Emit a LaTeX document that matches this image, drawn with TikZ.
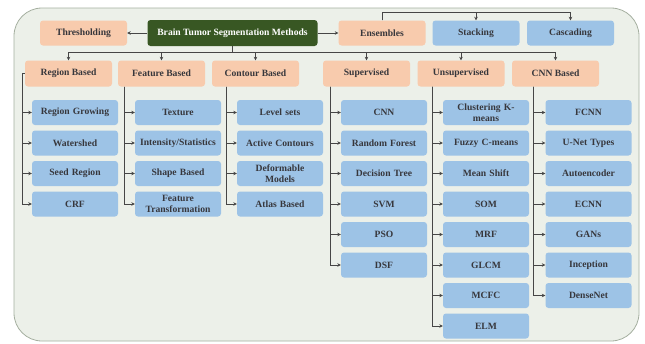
\documentclass[tikz,border=0pt]{standalone}
\usepackage{fontspec}
\setmainfont{Liberation Serif}
\usetikzlibrary{arrows.meta,calc}
\definecolor{framefill}{RGB}{236,240,233}
\definecolor{framedraw}{RGB}{165,175,160}
\definecolor{rootgreen}{RGB}{56,87,35}
\definecolor{salmon}{RGB}{248,203,173}
\definecolor{skyblue}{RGB}{157,195,230}
\definecolor{txt}{RGB}{55,55,60}
\definecolor{lin}{RGB}{70,70,70}
\tikzset{
  box/.style={rounded corners=3pt, minimum height=25pt, inner sep=1pt, align=center,
    font=\fontsize{9.6}{10.5}\selectfont\bfseries, text=txt},
  rootbox/.style={box, fill=rootgreen, text=white, minimum width=170pt, minimum height=26pt},
  catbox/.style={box, fill=salmon, minimum width=87pt, minimum height=26pt},
  leafbox/.style={box, fill=skyblue, minimum width=86pt, text width=84pt},
  topblue/.style={box, fill=skyblue, minimum width=87pt},
  conn/.style={draw=lin, line width=0.8pt},
  arr/.style={conn, -{Stealth[length=3.5pt,width=3.5pt]}}
}
\begin{document}
\begin{tikzpicture}[x=1pt,y=-1pt]
\useasboundingbox (0,0) rectangle (645,343);
\draw[framedraw, fill=framefill, line width=0.8pt, rounded corners=28pt] (14,8) rectangle (639,341);

% top row
\node[rootbox] (root) at (232.5,33) {Brain Tumor Segmentation Methods};
\node[catbox, minimum height=25pt] (thr) at (83.5,33) {Thresholding};
\node[catbox, minimum height=25pt] (ens) at (382,33) {Ensembles};
\node[topblue] (stk) at (476,33) {Stacking};
\node[topblue] (cas) at (570.5,33) {Cascading};

% categories
\node[catbox] (rb) at (68.5,73.5) {Region Based};
\node[catbox] (fb) at (161.5,73.5) {Feature Based};
\node[catbox] (cb) at (255.5,73.5) {Contour Based};
\node[catbox] (sup) at (366.5,73.5) {Supervised};
\node[catbox] (uns) at (461,73.5) {Unsupervised};
\node[catbox] (cnn) at (555.5,73.5) {CNN Based};

% vertical line positions
\coordinate (bus) at (0,52);
\coordinate (top) at (0,12);
\coordinate (v1) at (22,0);
\coordinate (v2) at (124,0);
\coordinate (v3) at (226,0);
\coordinate (v4) at (330,0);
\coordinate (v5) at (432,0);
\coordinate (v6) at (533,0);

% leaves column 1
\node[leafbox] (a1) at (75,112.5) {Region Growing};
\node[leafbox] (a2) at (75,143) {Watershed};
\node[leafbox] (a3) at (75,173.5) {Seed Region};
\node[leafbox] (a4) at (75,204) {CRF};
% column 2
\node[leafbox] (b1) at (178,112.5) {Texture};
\node[leafbox] (b2) at (178,143) {Intensity/Statistics};
\node[leafbox] (b3) at (178,173.5) {Shape Based};
\node[leafbox] (b4) at (178,204) {Feature\\Transformation};
% column 3
\node[leafbox] (c1) at (280,112.5) {Level sets};
\node[leafbox] (c2) at (280,143) {Active Contours};
\node[leafbox] (c3) at (280,173.5) {Deformable\\Models};
\node[leafbox] (c4) at (280,204) {Atlas Based};
% column 4
\node[leafbox] (d1) at (384,112.5) {CNN};
\node[leafbox] (d2) at (384,143) {Random Forest};
\node[leafbox] (d3) at (384,173.5) {Decision Tree};
\node[leafbox] (d4) at (384,204) {SVM};
\node[leafbox] (d5) at (384,234.5) {PSO};
\node[leafbox] (d6) at (384,265) {DSF};
% column 5
\node[leafbox] (e1) at (486,112.5) {Clustering K-\\means};
\node[leafbox] (e2) at (486,143) {Fuzzy C-means};
\node[leafbox] (e3) at (486,173.5) {Mean Shift};
\node[leafbox] (e4) at (486,204) {SOM};
\node[leafbox] (e5) at (486,234.5) {MRF};
\node[leafbox] (e6) at (486,265) {GLCM};
\node[leafbox] (e7) at (486,295.5) {MCFC};
\node[leafbox] (e8) at (486,326) {ELM};
% column 6
\node[leafbox] (f1) at (588.5,112.5) {FCNN};
\node[leafbox] (f2) at (588.5,143) {U-Net Types};
\node[leafbox] (f3) at (588.5,173.5) {Autoencoder};
\node[leafbox] (f4) at (588.5,204) {ECNN};
\node[leafbox] (f5) at (588.5,234.5) {GANs};
\node[leafbox] (f6) at (588.5,265) {Inception};
\node[leafbox] (f7) at (588.5,295.5) {DenseNet};

% top connectors
\draw[arr] (root.west) -- (thr.east);
\draw[arr] (root.east) -- (ens.west);
\draw[arr] (ens.north) |- (stk.north |- top) -- (stk.north);
\draw[arr] (ens.north) |- (cas.north |- top) -- (cas.north);

% root to categories
\foreach \c in {rb,fb,cb,sup,uns,cnn}
  \draw[arr] (root.south) |- (\c.north |- bus) -- (\c.north);

% category to leaves
\foreach \l in {a1,a2,a3,a4}
  \draw[arr] (rb.west) -- (rb.west -| v1) |- (\l.west);
\foreach \l in {b1,b2,b3,b4}
  \draw[arr] (v2 |- fb.south) |- (\l.west);
\foreach \l in {c1,c2,c3,c4}
  \draw[arr] (v3 |- cb.south) |- (\l.west);
\foreach \l in {d1,d2,d3,d4,d5,d6}
  \draw[arr] (v4 |- sup.south) |- (\l.west);
\foreach \l in {e1,e2,e3,e4,e5,e6,e7,e8}
  \draw[arr] (v5 |- uns.south) |- (\l.west);
\foreach \l in {f1,f2,f3,f4,f5,f6,f7}
  \draw[arr] (v6 |- cnn.south) |- (\l.west);
\end{tikzpicture}
\end{document}
